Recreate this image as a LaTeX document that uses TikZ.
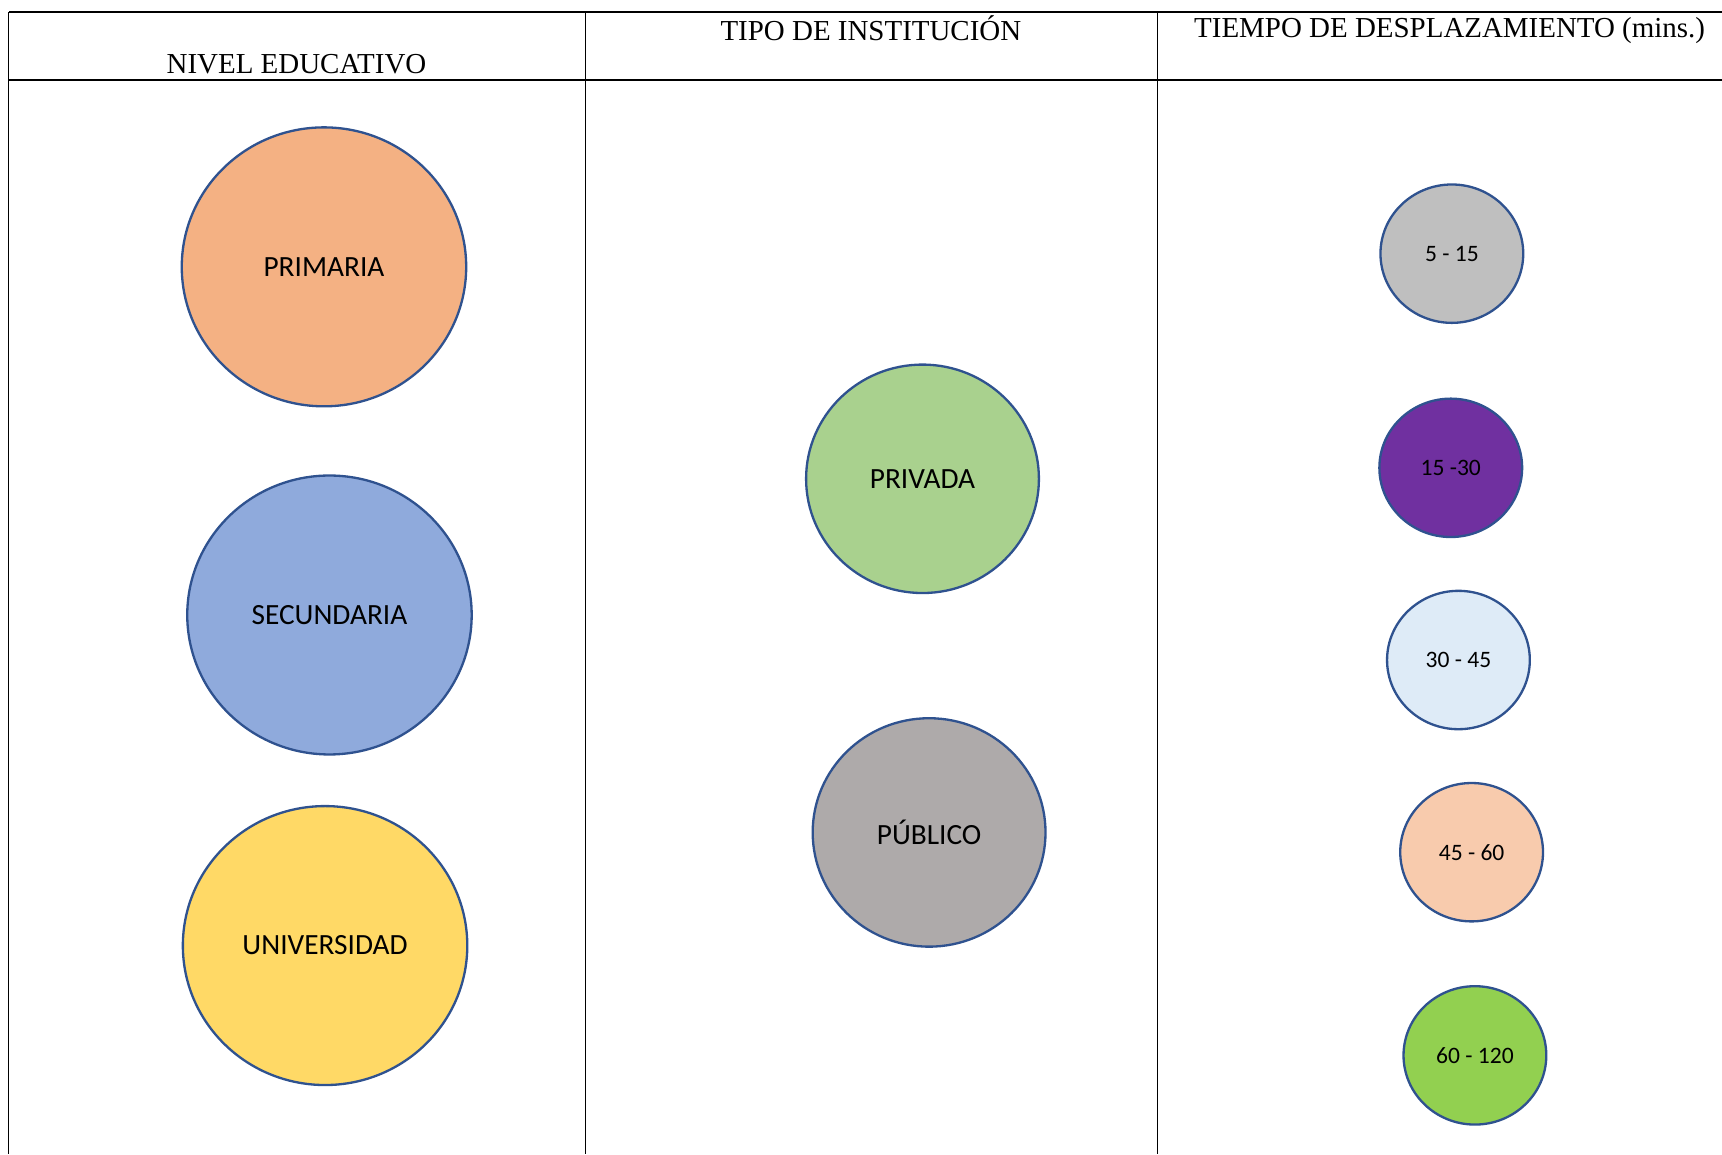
\documentclass[tikz,border=0pt]{standalone}
\usepackage{fontspec}
\setmainfont{Liberation Serif}
\newfontfamily\calibri{Carlito}
\usetikzlibrary{shapes.geometric}
\definecolor{outline}{HTML}{2F528F}
\definecolor{primaria}{HTML}{F4B183}
\definecolor{secundaria}{HTML}{8FAADC}
\definecolor{universidad}{HTML}{FFD966}
\definecolor{privada}{HTML}{A9D18E}
\definecolor{publico}{HTML}{AEAAAA}
\definecolor{tgris}{HTML}{BFBFBF}
\definecolor{tmorado}{HTML}{7030A0}
\definecolor{tceleste}{HTML}{DEEBF7}
\definecolor{tdurazno}{HTML}{F8CBAD}
\definecolor{tverde}{HTML}{92D050}
\begin{document}
\begin{tikzpicture}
\tikzset{
  bubble/.style={draw=outline,line width=0.6pt,shape=ellipse,inner sep=0pt,font=\calibri\fontsize{7.6}{9}\selectfont},
  big/.style={bubble,minimum width=2.59cm,minimum height=2.54cm},
  mid/.style={bubble,minimum width=2.12cm,minimum height=2.08cm},
  small/.style={bubble,minimum width=1.30cm,minimum height=1.26cm,font=\calibri\fontsize{6.1}{7}\selectfont},
  heading/.style={font=\fontsize{7.5}{9}\selectfont,inner sep=0pt}
}
\useasboundingbox (0,0) rectangle (15.68,10.51);
% table
\draw[line width=0.6pt] (0.08,10.40) -- (15.68,10.40);
\draw[line width=0.6pt] (0.08,9.78) -- (15.68,9.78);
\draw[line width=0.3pt] (0.08,10.40) -- (0.08,0);
\draw[line width=0.3pt] (5.33,10.40) -- (5.33,0);
\draw[line width=0.3pt] (10.54,10.40) -- (10.54,0);
\node[heading] (nivel) at (2.70,9.93) {NIVEL EDUCATIVO};
\node[heading] (tipo) at (7.93,10.25) {TIPO DE INSTITUCIÓN};
\node[heading] (tiempo) at (13.20,10.23) {TIEMPO DE DESPLAZAMIENTO (mins.)};
% nivel educativo
\node[big,fill=primaria] (primaria) at (2.95,8.08) {PRIMARIA};
\node[big,fill=secundaria] (secundaria) at (3.00,4.91) {SECUNDARIA};
\node[big,fill=universidad] (universidad) at (2.96,1.90) {UNIVERSIDAD};
% tipo de institucion
\node[mid,fill=privada] (privada) at (8.40,6.15) {PRIVADA};
\node[mid,fill=publico] (publico) at (8.46,2.93) {PÚBLICO};
% tiempo
\node[small,fill=tgris] (t5) at (13.22,8.20) {5 - 15};
\node[small,fill=tmorado] (t15) at (13.21,6.25) {15 -30};
\node[small,fill=tceleste] (t30) at (13.28,4.50) {30 - 45};
\node[small,fill=tdurazno] (t45) at (13.40,2.75) {45 - 60};
\node[small,fill=tverde] (t60) at (13.43,0.90) {60 - 120};
\end{tikzpicture}
\end{document}
